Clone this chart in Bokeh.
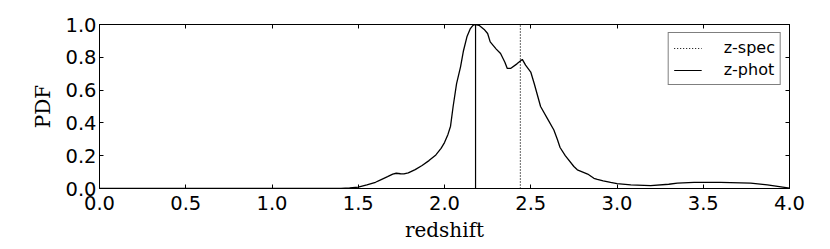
import numpy as np
from bokeh.plotting import figure
from bokeh.models import Range1d, FixedTicker, LinearAxis, Legend, LegendItem, CustomJSTickFormatter
from bokeh.embed import file_html
from bokeh.resources import INLINE

# ---- data ----
redshift = [0.0, 0.5, 1.0, 1.30, 1.40, 1.45, 1.50, 1.55, 1.60, 1.63, 1.67, 1.70, 1.72,
            1.745, 1.765, 1.79, 1.83, 1.87, 1.91, 1.95, 1.98, 2.00, 2.02, 2.035, 2.05,
            2.07, 2.093, 2.11, 2.13, 2.15, 2.165, 2.18, 2.20, 2.23, 2.25, 2.265, 2.30,
            2.325, 2.35, 2.364, 2.383, 2.42, 2.445, 2.451, 2.47, 2.50, 2.52, 2.557,
            2.60, 2.634, 2.654, 2.67, 2.70, 2.75, 2.77, 2.83, 2.866, 2.886, 2.92,
            2.963, 3.00, 3.08, 3.195, 3.30, 3.35, 3.447, 3.60, 3.775, 3.872, 4.0]
pdf = [0.0, 0.0, 0.0, 0.0, 0.001, 0.003, 0.008, 0.022, 0.038, 0.053, 0.072, 0.088, 0.093,
       0.090, 0.089, 0.095, 0.115, 0.140, 0.170, 0.205, 0.245, 0.280, 0.330, 0.380, 0.500,
       0.640, 0.742, 0.840, 0.925, 0.975, 0.995, 1.0, 0.995, 0.970, 0.945, 0.894, 0.850,
       0.823, 0.770, 0.732, 0.732, 0.760, 0.782, 0.787, 0.752, 0.710, 0.640, 0.500,
       0.420, 0.357, 0.300, 0.250, 0.200, 0.134, 0.114, 0.088, 0.062, 0.056, 0.047,
       0.037, 0.030, 0.022, 0.018, 0.026, 0.033, 0.037, 0.037, 0.033, 0.022, 0.002]
z_spec = 2.44
z_phot = 2.18
line_y = [0.0, 1.0]

x_ticks = [0.0, 0.5, 1.0, 1.5, 2.0, 2.5, 3.0, 3.5, 4.0]
x_tick_labels = ["0.0", "0.5", "1.0", "1.5", "2.0", "2.5", "3.0", "3.5", "4.0"]
y_ticks = [0.0, 0.2, 0.4, 0.6, 0.8, 1.0]
y_tick_labels = ["0.0", "0.2", "0.4", "0.6", "0.8", "1.0"]

p = figure(frame_width=690, frame_height=164,
           x_range=Range1d(0, 4), y_range=Range1d(0, 1),
           output_backend="svg", toolbar_location=None,
           min_border_left=99, min_border_top=24, min_border_right=33,
           min_border_bottom=52)
p.xgrid.visible = False
p.ygrid.visible = False
p.outline_line_color = "black"
p.outline_line_width = 1
p.background_fill_color = "white"
p.border_fill_color = "white"

TICK_FONT = "19.5px"

def style_axis(ax, ticks, labels, show_labels=True):
    ax.ticker = FixedTicker(ticks=ticks)
    if show_labels:
        ax.major_label_overrides = {t: l for t, l in zip(ticks, labels)}
    else:
        ax.formatter = CustomJSTickFormatter(code="return '';")
    ax.major_tick_in = 4
    ax.major_tick_out = 0
    ax.minor_tick_line_color = None
    ax.major_tick_line_color = "black"
    ax.axis_line_color = "black"
    ax.major_label_text_font = "DejaVu Sans"
    ax.major_label_text_color = "black"
    ax.major_label_text_font_size = TICK_FONT
    ax.major_label_standoff = 0 if not show_labels else 3
    ax.axis_label_text_font = "DejaVu Serif"
    ax.axis_label_text_font_style = "normal"
    ax.axis_label_text_font_size = "20px"
    ax.axis_label_text_color = "black"

style_axis(p.xaxis[0], x_ticks, x_tick_labels)
style_axis(p.yaxis[0], y_ticks, y_tick_labels)
p.xaxis[0].axis_label = "redshift"
p.yaxis[0].axis_label = "PDF"
p.xaxis[0].major_label_standoff = 7
p.yaxis[0].major_label_standoff = 3
p.xaxis[0].axis_label_standoff = 5
p.yaxis[0].axis_label_standoff = 7

top_ax = LinearAxis()
style_axis(top_ax, x_ticks, x_tick_labels, show_labels=False)
right_ax = LinearAxis()
style_axis(right_ax, y_ticks, y_tick_labels, show_labels=False)
p.add_layout(top_ax, "above")
p.add_layout(right_ax, "right")

p.line(redshift, pdf, line_color="black", line_width=1.3)
r_spec = p.line([z_spec, z_spec], line_y, line_color="black", line_width=1.2,
                line_dash="1 2")
r_phot = p.line([z_phot, z_phot], line_y, line_color="black", line_width=1.2)

legend = Legend(items=[LegendItem(label="z-spec", renderers=[r_spec]),
                       LegendItem(label="z-phot", renderers=[r_phot])],
                location="top_right")
legend.margin = 8
legend.padding = 5
legend.spacing = 3
legend.label_height = 18
legend.glyph_height = 18
legend.glyph_width = 28
legend.label_standoff = 22
legend.label_text_font = "DejaVu Sans"
legend.label_text_font_size = "16px"
legend.label_text_color = "black"
legend.border_line_color = "black"
legend.border_line_width = 1
legend.background_fill_alpha = 1.0
p.add_layout(legend)

open("out.html", "w").write(file_html(p, INLINE))
